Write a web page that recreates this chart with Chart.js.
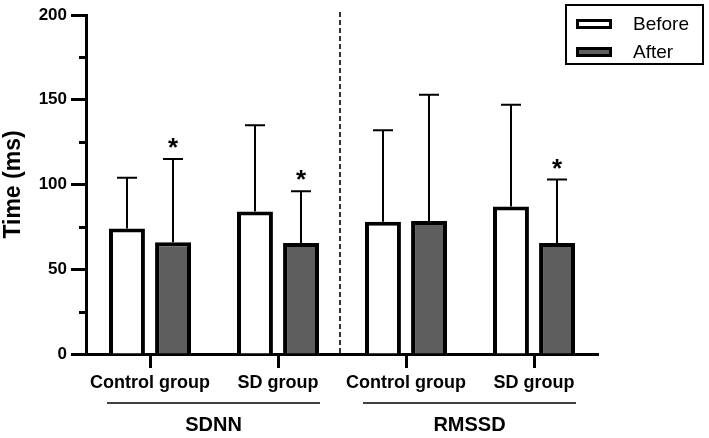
<!DOCTYPE html>
<html>
<head>
<meta charset="utf-8">
<script src="https://cdn.jsdelivr.net/npm/chart.js@4/dist/chart.umd.min.js"></script>
<style>
  html, body { margin: 0; padding: 0; background: #fff; }
  #wrap { width: 709px; height: 438px; }
</style>
</head>
<body>
<div id="wrap"><canvas id="chart" width="709" height="438"></canvas></div>
<script>
const categories = ["Control group", "SD group", "Control group", "SD group"];
const groups = ["SDNN", "RMSSD"];
const beforeMeans = [74, 84, 78, 87];
const afterMeans = [66, 65.5, 78.5, 65.5];
const beforeErr = [104, 135, 132, 147];
const afterErr = [115, 96, 153, 103];
const afterStar = [true, true, false, true];
const yTicks = [0, 50, 100, 150, 200];
const yMinorTicks = [25, 75, 125, 175];

const FONT = "'Liberation Sans', Arial, sans-serif";

// error bars, asterisks, divider, group labels and the boxed legend
const extras = {
  id: "extras",
  afterDatasetsDraw(chart) {
    const ctx = chart.ctx;
    const x = chart.scales.x, y = chart.scales.y;
    const area = chart.chartArea;
    const errs = [beforeErr, afterErr];
    ctx.save();

    // x axis runs a little left of the y axis
    ctx.strokeStyle = "#000";
    ctx.lineWidth = 3;
    ctx.beginPath();
    ctx.moveTo(area.left - 15, area.bottom + 0.5);
    ctx.lineTo(area.left, area.bottom + 0.5);
    ctx.stroke();

    // minor y ticks
    yMinorTicks.forEach(v => {
      const py = Math.round(y.getPixelForValue(v)) + 0.5;
      ctx.beginPath();
      ctx.moveTo(area.left - 7, py);
      ctx.lineTo(area.left, py);
      ctx.stroke();
    });

    // error bars
    ctx.lineWidth = 2;
    chart.data.datasets.forEach((ds, di) => {
      const meta = chart.getDatasetMeta(di);
      meta.data.forEach((bar, i) => {
        const top = y.getPixelForValue(errs[di][i]);
        const bx = Math.round(bar.x);
        ctx.beginPath();
        ctx.moveTo(bx, bar.y);
        ctx.lineTo(bx, top);
        ctx.moveTo(bx - 10, top);
        ctx.lineTo(bx + 10, top);
        ctx.stroke();
        if (di === 1 && afterStar[i]) {
          ctx.fillStyle = "#000";
          ctx.font = "bold 26px " + FONT;
          ctx.textAlign = "center";
          ctx.textBaseline = "middle";
          ctx.fillText("*", bx, top - 10);
        }
      });
    });

    // dashed divider between SDNN and RMSSD
    const dx = (x.getPixelForValue(1) + x.getPixelForValue(2)) / 2 - 2;
    ctx.strokeStyle = "#333";
    ctx.lineWidth = 2;
    ctx.setLineDash([5, 3]);
    ctx.beginPath();
    ctx.moveTo(dx, 12);
    ctx.lineTo(dx, area.bottom);
    ctx.stroke();
    ctx.setLineDash([]);

    // group lines and names
    const m0 = chart.getDatasetMeta(0), m1 = chart.getDatasetMeta(1);
    groups.forEach((g, gi) => {
      const b0 = m0.data[gi * 2], b1 = m1.data[gi * 2 + 1];
      const x0 = b0.x - b0.width / 2 - 2;
      const x1 = b1.x + b1.width / 2 + 1;
      ctx.strokeStyle = "#000";
      ctx.lineWidth = 1.5;
      ctx.beginPath();
      ctx.moveTo(x0, 403);
      ctx.lineTo(x1, 403);
      ctx.stroke();
      ctx.fillStyle = "#000";
      ctx.font = "bold 20px " + FONT;
      ctx.textAlign = "center";
      ctx.textBaseline = "middle";
      ctx.fillText(g, (x0 + x1) / 2, 425);
    });

    // legend box
    ctx.lineWidth = 2;
    ctx.strokeStyle = "#000";
    ctx.strokeRect(566, 5, 137, 59);
    chart.data.datasets.forEach((ds, di) => {
      const cy = 24 + di * 28;
      ctx.fillStyle = ds.backgroundColor;
      ctx.fillRect(576, cy - 5, 36, 10);
      ctx.lineWidth = 3;
      ctx.strokeRect(577.5, cy - 3.5, 33, 7);
      ctx.fillStyle = "#000";
      ctx.font = "19px " + FONT;
      ctx.textAlign = "left";
      ctx.textBaseline = "middle";
      ctx.fillText(ds.label, 633, cy + 1);
    });
    ctx.restore();
  }
};

new Chart(document.getElementById("chart"), {
  type: "bar",
  data: {
    labels: categories,
    datasets: [
      {
        label: "Before",
        data: beforeMeans,
        backgroundColor: "#ffffff",
        borderColor: "#000",
        borderWidth: 4,
        borderSkipped: "start",
        barPercentage: 0.78,
        categoryPercentage: 0.72
      },
      {
        label: "After",
        data: afterMeans,
        backgroundColor: "#5e5e5e",
        borderColor: "#000",
        borderWidth: 4,
        borderSkipped: "start",
        barPercentage: 0.78,
        categoryPercentage: 0.72
      }
    ]
  },
  options: {
    responsive: false,
    animation: false,
    layout: { padding: { top: 15, right: 111, left: 0, bottom: 0 } },
    plugins: { legend: { display: false }, tooltip: { enabled: false } },
    scales: {
      x: {
        afterFit(scale) { scale.height = 84; },
        grid: {
          offset: false,
          drawOnChartArea: false,
          drawTicks: true,
          tickLength: 14,
          tickWidth: 3,
          tickColor: "#000"
        },
        border: { display: true, color: "#000", width: 3 },
        ticks: {
          color: "#000",
          font: { family: FONT, size: 18, weight: "bold" },
          padding: 4,
          maxRotation: 0,
          autoSkip: false
        }
      },
      y: {
        min: 0,
        max: 200,
        afterFit(scale) { scale.width = 86; },
        afterBuildTicks(scale) { scale.ticks = yTicks.map(v => ({ value: v })); },
        grid: {
          drawOnChartArea: false,
          drawTicks: true,
          tickLength: 15,
          tickWidth: 3,
          tickColor: "#000"
        },
        border: { display: true, color: "#000", width: 3 },
        ticks: {
          color: "#000",
          font: { family: FONT, size: 17, weight: "bold" },
          padding: 4
        },
        title: {
          display: true,
          text: "Time (ms)",
          color: "#000",
          font: { family: FONT, size: 23, weight: "bold" },
          padding: { top: 0, bottom: 0 }
        }
      }
    }
  },
  plugins: [extras]
});
</script>
</body>
</html>
